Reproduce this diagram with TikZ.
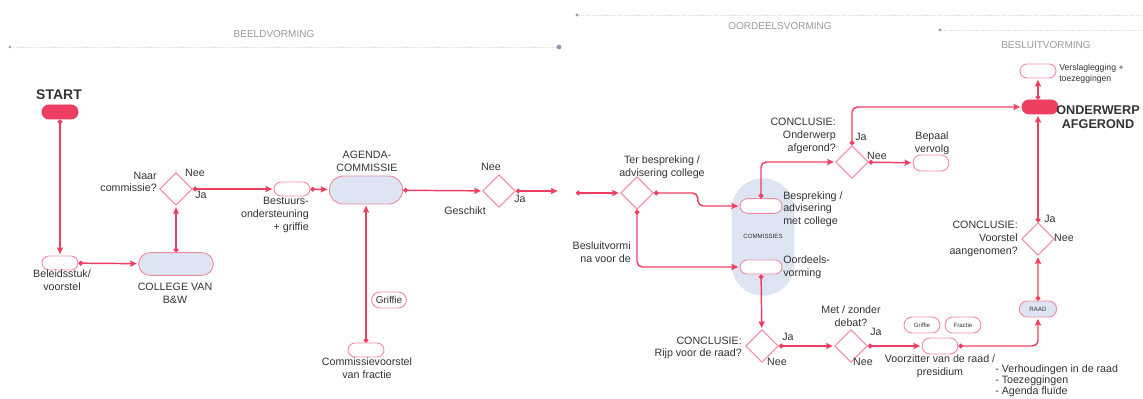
\documentclass[tikz,border=0pt]{standalone}
\usepackage{xcolor}
\usepackage{fontspec}
\setmainfont{Liberation Sans}
\usepackage{tikz}
\usetikzlibrary{arrows, arrows.meta, positioning, shapes.geometric, shapes.misc}
\definecolor{flowred}{HTML}{EE3F63}
\definecolor{pillline}{HTML}{F28CA2}
\definecolor{paleblue}{HTML}{DCE5F1}
\definecolor{hdrgray}{HTML}{9A9A9A}
\definecolor{hdrline}{HTML}{D3D8E1}
\definecolor{hdrdot}{HTML}{8E9AAE}
\definecolor{txt}{HTML}{333333}

\begin{document}
\begin{tikzpicture}[x=0.75pt, y=-0.75pt,
				>=stealth',
				shorten >=1pt,
				flow/.style={{Circle[length=3.5pt]}-{Stealth[length=5pt, width=4.5pt, inset=0.6pt]}, draw=flowred, line width=1.1pt},
				pill/.style={rounded rectangle, draw=pillline, fill=white, line width=0.7pt, minimum width=27pt, minimum height=10.5pt, inner sep=0pt},
				redpill/.style={pill, draw=flowred, fill=flowred},
				bluepill/.style={pill, fill=paleblue},
				choice/.style={diamond, draw=pillline, fill=white, line width=0.7pt, minimum size=24.5pt, inner sep=0pt},
				lbl/.style={text=txt, font=\fontsize{8}{9.5}\selectfont, align=center, inner sep=0pt},
				tiny/.style={text=txt, font=\fontsize{4.6}{5.5}\selectfont, inner sep=0pt},
				hdr/.style={text=hdrgray, font=\fontsize{7.5}{9}\selectfont, inner sep=0pt},
				hdrrule/.style={draw=hdrline, densely dotted, line width=0.6pt}]
				\useasboundingbox (0,0) rectangle (1143,399);
				% fases
				\coordinate (h1a) at (10,47);
				\coordinate (h1b) at (559,47);
				\coordinate (h2a) at (577,15);
				\coordinate (h2b) at (1143,15);
				\coordinate (h3a) at (940,30);
				\coordinate (h3b) at (1143,30);
				\draw[hdrrule] (h1a) -- (h1b);
				\draw[hdrrule] (h2a) -- (h2b);
				\draw[hdrrule] (h3a) -- (h3b);
				\fill[hdrdot] (h1a) circle (1.1pt);
				\fill[hdrdot] (h1b) circle (1.8pt);
				\fill[hdrdot] (h2a) circle (1.3pt);
				\fill[hdrdot] (h3a) circle (1.3pt);
				\node at (274,34) (beeld) [hdr] {BEELDVORMING};
				\node at (780,26) (oordeelhdr) [hdr] {OORDEELSVORMING};
				\node at (1046,45) (besluithdr) [hdr] {BESLUITVORMING};
				% beeldvorming
				\node at (60,112) (start) [redpill] {};
				\node at (60,263) (beleid) [pill] {};
				\node at (176,264) (college) [bluepill, minimum width=56pt, minimum height=17pt] {};
				\node at (176,189) (naar) [choice] {};
				\node at (292,189) (bestuur) [pill] {};
				\node at (366,190) (agenda) [bluepill, minimum width=55pt, minimum height=21pt] {};
				\node at (366,350) (voorstel) [pill] {};
				\node at (389,300) (griffie) [pill, minimum width=26pt, minimum height=12pt, text=txt, font=\fontsize{7.5}{9}\selectfont] {Griffie};
				\node at (499,191) (geschikt) [choice] {};
				\coordinate (uit) at (559,191);
				\node at (59,95) (lstart) [lbl, font=\bfseries\fontsize{10.5}{12}\selectfont] {START};
				\node at (62,280) (lbeleid) [lbl] {Beleidsstuk/\\voorstel};
				\node at (175,293) (lcollege) [lbl] {COLLEGE VAN\\B\&W};
				\node at (157,182) (lnaar) [lbl, anchor=east, align=right] {Naar\\commissie?};
				\node at (195,173) (lnee1) [lbl] {Nee};
				\node at (201,195) (lja1) [lbl] {Ja};
				\node at (309,215) (lbestuur) [lbl, anchor=east, align=right] {Bestuurs-\\ondersteuning\\+ griffie};
				\node at (367,161) (lagenda) [lbl] {AGENDA-\\COMMISSIE};
				\node at (367,368) (lvoorstel) [lbl] {Commissievoorstel\\van fractie};
				\node at (465,211) (lgeschikt) [lbl] {Geschikt};
				\node at (491,167) (lnee2) [lbl] {Nee};
				\node at (520,199) (lja2) [lbl] {Ja};
				\draw[flow] (start) -- (beleid);
				\draw[flow] (beleid) -- (college);
				\draw[flow] (college) -- (naar);
				\draw[flow] (naar) -- (bestuur);
				\draw[flow] (bestuur) -- (agenda);
				\draw[flow] (voorstel) -- (agenda);
				\draw[flow] (agenda) -- (geschikt);
				\draw[flow] (geschikt) -- (uit);
				% oordeelsvorming
				\node at (763,237) (commissies) [rectangle, fill=paleblue, minimum width=47pt, minimum height=88pt, rounded corners=23.5pt] {};
				\node at (763,236) (lcommissies) [tiny] {COMMISSIES};
				\coordinate (in) at (576,193);
				\node at (637,193) (ter) [choice] {};
				\node at (761,206) (bespreking) [pill, minimum width=31.5pt, minimum height=11pt] {};
				\node at (761,267) (oordeel) [pill, minimum width=31.5pt] {};
				\node at (852,162) (klaar) [choice] {};
				\node at (931,163) (vervolg) [pill, minimum height=12pt] {};
				\node at (762,346) (rijp) [choice] {};
				\node at (851,346) (debat) [choice] {};
				\node at (662,167) (lter) [lbl] {Ter bespreking /\\advisering college};
				\node at (631,252) (lbesluit) [lbl, anchor=east, align=right] {Besluitvormi\\na voor de};
				\node at (783,209) (lbespreking) [lbl, anchor=west, align=left] {Bespreking /\\advisering\\met college};
				\node at (783,267) (loordeel) [lbl, anchor=west, align=left] {Oordeels-\\vorming};
				\node at (836,136) (lklaar) [lbl, anchor=east, align=right] {CONCLUSIE:\\Onderwerp\\afgerond?};
				\node at (861,137) (lja3) [lbl] {Ja};
				\node at (877,156) (lnee3) [lbl] {Nee};
				\node at (932,143) (lvervolg) [lbl] {Bepaal\\vervolg};
				\node at (742,348) (lrijp) [lbl, anchor=east, align=right] {CONCLUSIE:\\Rijp voor de raad?};
				\node at (788,337) (lja5) [lbl] {Ja};
				\node at (777,362) (lnee5) [lbl] {Nee};
				\node at (851,316) (ldebat) [lbl] {Met / zonder\\debat?};
				\node at (876,332) (lja6) [lbl] {Ja};
				\node at (863,362) (lnee6) [lbl] {Nee};
				\draw[flow] (in) -- (ter);
				\draw[flow, rounded corners=4pt] (ter.east) -- ++(44,0) |- (bespreking.west);
				\draw[flow, rounded corners=4pt] (ter.south) |- (oordeel.west);
				\draw[flow, rounded corners=4pt] (bespreking.north) |- (klaar.west);
				\draw[flow] (klaar) -- (vervolg);
				\draw[flow] (oordeel) -- (rijp);
				\draw[flow] (rijp) -- (debat);
				% besluitvorming
				\node at (1040,107) (afgerond) [redpill] {};
				\node at (1038,71) (verslag) [pill] {};
				\node at (1038,239) (aangenomen) [choice] {};
				\node at (1038,309) (raad) [bluepill, minimum width=28pt, minimum height=12pt, tiny] {RAAD};
				\node at (940,346) (voorzitter) [pill, minimum height=12pt] {};
				\node at (922,325) (griffie2) [pill, minimum height=12pt, tiny] {Griffie};
				\node at (963,325) (fractie) [pill, minimum height=12pt, tiny] {Fractie};
				\node at (1098,117) (lafgerond) [lbl, font=\bfseries\fontsize{9.5}{11}\selectfont] {ONDERWERP\\AFGEROND};
				\node at (1059,74) (lverslag) [lbl, anchor=west, align=left, font=\fontsize{6.5}{8}\selectfont] {Verslaglegging +\\toezeggingen};
				\node at (1018,239) (laangenomen) [lbl, anchor=east, align=right] {CONCLUSIE:\\Voorstel\\aangenomen?};
				\node at (1050,219) (lja4) [lbl] {Ja};
				\node at (1064,238) (lnee4) [lbl] {Nee};
				\node at (940,366) (lvoorzitter) [lbl] {Voorzitter van de raad /\\presidium};
				\node at (995,381) (lfactoren) [lbl, anchor=west, align=left, font=\fontsize{8}{8.4}\selectfont] {- Verhoudingen in de raad\\- Toezeggingen\\- Agenda fluïde};
				\draw[flow] (debat) -- (voorzitter);
				\draw[flow, rounded corners=4pt] (voorzitter.east) -| (raad.south);
				\draw[flow] (raad) -- (aangenomen);
				\draw[flow] (aangenomen) -- (afgerond.south -| aangenomen.north);
				\draw[flow, rounded corners=4pt] (klaar.north) |- (afgerond.west);
				\draw[flow] (afgerond.north -| verslag.south) -- (verslag);
			\end{tikzpicture}
\end{document}
